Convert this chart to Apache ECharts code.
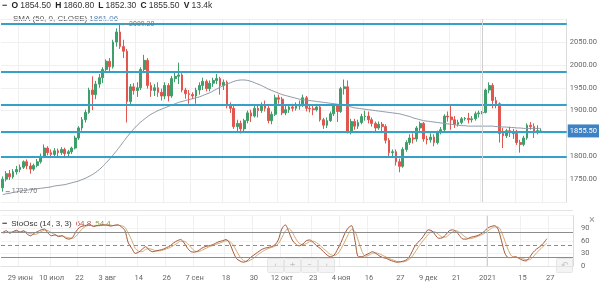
<!DOCTYPE html>
<html>
<head>
<meta charset="utf-8">
<title>GOLD</title>
<script src="https://cdn.jsdelivr.net/npm/echarts@6.0.0/dist/echarts.min.js"></script>
<style>
	html, body { margin: 0; padding: 0; background: #fff; }
	#chart { width: 600px; height: 282px; }
</style>
</head>
<body>
<div id="chart"></div>
<script>
(function() {
	'use strict';

	// календарь: рабочие дни начиная с 22 июня 2020 (с запасом справа)
	var dates = [];
	var d = new Date(Date.UTC(2020, 5, 22));
	while(dates.length < 164) {
		var wd = d.getUTCDay();
		if(wd !== 0 && wd !== 6) {
			dates.push(d.toISOString().slice(0, 10));
		}
		d.setUTCDate(d.getUTCDate() + 1);
	}

	// подписи оси времени
	var xLabels = {
		'2020-06-29': '29 июн', '2020-07-10': '10 июл', '2020-07-22': '22',
		'2020-08-03': '3 авг', '2020-08-14': '14', '2020-08-26': '26',
		'2020-09-07': '7 сен', '2020-09-18': '18', '2020-09-30': '30',
		'2020-10-12': '12 окт', '2020-10-23': '23', '2020-11-04': '4 ноя',
		'2020-11-16': '16', '2020-11-27': '27', '2020-12-09': '9 дек',
		'2020-12-21': '21', '2021-01-01': '2021', '2021-01-15': '15',
		'2021-01-27': '27'
	};

	// свечи: [open, close, low, high]
	var candles = [
		[1731, 1750, 1722.7, 1756], [1750, 1762, 1745, 1768], [1762, 1755, 1748, 1770], [1755, 1766, 1751, 1772], [1766, 1771, 1760, 1779],
		[1771, 1776, 1765, 1782], [1776, 1788, 1772, 1791], [1788, 1779, 1772, 1793], [1779, 1772, 1762, 1786], [1772, 1780, 1768, 1784],
		[1780, 1788, 1776, 1794], [1788, 1800, 1784, 1806], [1800, 1818, 1796, 1826], [1818, 1808, 1802, 1822], [1808, 1804, 1796, 1815],
		[1804, 1812, 1798, 1818], [1812, 1808, 1800, 1817], [1808, 1815, 1803, 1820], [1815, 1806, 1796, 1819], [1806, 1810, 1798, 1814],
		[1810, 1818, 1805, 1821], [1818, 1840, 1815, 1845], [1840, 1862, 1836, 1866], [1862, 1880, 1856, 1886], [1880, 1896, 1874, 1902],
		[1896, 1945, 1893, 1950], [1945, 1935, 1901, 1975], [1935, 1958, 1925, 1965], [1958, 1972, 1950, 1980], [1972, 1990, 1960, 1995],
		[1990, 2008, 1982, 2012], [2008, 1996, 1985, 2015], [1996, 2050, 1992, 2055], [2050, 2072, 2040, 2080], [2072, 2040, 2035, 2089.2],
		[2040, 2030, 2015, 2055], [2030, 1920, 1874, 2035], [1920, 1952, 1912, 1958], [1952, 1944, 1935, 1960], [1944, 1950, 1930, 1962],
		[1950, 1990, 1945, 1995], [1990, 2010, 1982, 2022], [2010, 1955, 1948, 2015], [1955, 1944, 1930, 1962], [1944, 1950, 1932, 1958],
		[1950, 1940, 1930, 1962], [1940, 1932, 1922, 1948], [1932, 1955, 1925, 1962], [1955, 1932, 1920, 1960], [1932, 1970, 1928, 1976],
		[1970, 1975, 1962, 1985], [1975, 1978, 1958, 2005], [1978, 1945, 1940, 1982], [1945, 1937, 1926, 1950], [1937, 1935, 1915, 1945],
		[1935, 1932, 1925, 1940], [1932, 1945, 1915, 1950], [1945, 1955, 1935, 1962], [1955, 1964, 1945, 1972], [1964, 1948, 1942, 1968],
		[1948, 1960, 1942, 1966], [1960, 1966, 1952, 1972], [1966, 1970, 1958, 1980], [1970, 1955, 1935, 1974], [1955, 1962, 1945, 1968],
		[1962, 1910, 1905, 1966], [1910, 1905, 1895, 1918], [1905, 1865, 1860, 1910], [1865, 1872, 1852, 1880], [1872, 1860, 1850, 1878],
		[1860, 1878, 1855, 1882], [1878, 1895, 1872, 1900], [1895, 1888, 1875, 1902], [1888, 1905, 1885, 1910], [1905, 1900, 1885, 1912],
		[1900, 1912, 1895, 1918], [1912, 1905, 1898, 1922], [1905, 1878, 1872, 1912], [1878, 1892, 1870, 1898], [1892, 1928, 1888, 1935],
		[1928, 1925, 1915, 1935], [1925, 1895, 1890, 1930], [1895, 1902, 1890, 1910], [1902, 1908, 1895, 1912], [1908, 1905, 1898, 1915],
		[1905, 1910, 1900, 1918], [1910, 1912, 1902, 1922], [1912, 1928, 1908, 1935], [1928, 1905, 1898, 1932], [1905, 1904, 1896, 1912],
		[1904, 1902, 1890, 1910], [1902, 1908, 1898, 1914], [1908, 1880, 1876, 1912], [1880, 1868, 1860, 1884], [1868, 1878, 1862, 1885],
		[1878, 1893, 1875, 1898], [1893, 1910, 1888, 1915], [1910, 1898, 1875, 1912], [1898, 1948, 1895, 1952], [1948, 1952, 1935, 1968],
		[1952, 1855, 1850, 1966], [1855, 1876, 1848, 1882], [1876, 1866, 1858, 1882], [1866, 1874, 1860, 1880], [1874, 1887, 1870, 1893],
		[1887, 1888, 1878, 1900], [1888, 1880, 1872, 1898], [1880, 1872, 1865, 1885], [1872, 1862, 1855, 1876], [1862, 1870, 1858, 1876],
		[1870, 1865, 1855, 1875], [1865, 1835, 1828, 1870], [1835, 1808, 1800, 1840], [1808, 1810, 1800, 1815], [1810, 1788, 1780, 1815],
		[1788, 1778, 1765, 1795], [1778, 1815, 1775, 1820], [1815, 1830, 1810, 1835], [1830, 1840, 1825, 1848], [1840, 1838, 1828, 1850],
		[1838, 1862, 1832, 1866], [1862, 1872, 1855, 1876], [1872, 1838, 1832, 1875], [1838, 1836, 1826, 1845], [1836, 1842, 1830, 1850],
		[1842, 1830, 1822, 1848], [1830, 1852, 1826, 1856], [1852, 1858, 1848, 1864], [1858, 1888, 1855, 1892], [1888, 1886, 1876, 1898],
		[1886, 1880, 1858, 1912], [1880, 1870, 1862, 1888], [1870, 1874, 1865, 1880], [1874, 1882, 1870, 1886], [1882, 1883, 1878, 1886],
		[1883, 1880, 1872, 1895], [1880, 1882, 1874, 1888], [1882, 1893, 1878, 1898], [1893, 1895, 1885, 1900], [1895, 1896, 1892, 1899],
		[1896, 1945, 1894, 1948], [1945, 1955, 1938, 1962], [1955, 1922, 1905, 1960], [1922, 1915, 1905, 1930], [1915, 1850, 1830, 1918],
		[1850, 1845, 1818, 1862], [1845, 1856, 1840, 1860], [1856, 1852, 1842, 1865], [1852, 1850, 1838, 1860], [1850, 1830, 1825, 1858],
		[1830, 1826, 1808, 1836], [1826, 1840, 1822, 1845], [1840, 1868, 1836, 1872], [1868, 1865, 1858, 1875], [1865, 1855, 1840, 1872],
		[1855, 1856, 1848, 1868], [1854.5, 1855.5, 1852.3, 1860.8]
	];

	// SMA (50, 0, CLOSE)
	var sma50 = [
		1716, 1718, 1719, 1721, 1722, 1724, 1725, 1726, 1727, 1728,
		1729, 1730, 1731, 1732, 1733, 1735, 1736, 1737, 1738, 1740,
		1742, 1744, 1746, 1749, 1752, 1756, 1760, 1765, 1771, 1778,
		1786, 1794, 1803, 1812, 1822, 1832, 1842, 1851, 1860, 1868,
		1875, 1881, 1887, 1892, 1896, 1900, 1903, 1906, 1909, 1912,
		1915, 1918, 1920, 1922, 1924, 1926, 1928, 1930, 1933, 1936,
		1939, 1943, 1947, 1951, 1955, 1958, 1961, 1964, 1966, 1967,
		1967, 1966, 1964, 1961, 1958, 1955, 1951, 1947, 1944, 1941,
		1938, 1935, 1933, 1931, 1929, 1927, 1925, 1924, 1923, 1922,
		1921, 1920, 1919, 1918, 1917, 1916, 1915, 1914, 1913, 1912,
		1910, 1908, 1906, 1905, 1904, 1903, 1902, 1901, 1900, 1899,
		1898, 1897, 1896, 1895, 1894, 1893, 1891, 1889, 1887, 1884,
		1882, 1880, 1878, 1877, 1876, 1875, 1874, 1873, 1872, 1871,
		1870, 1869, 1868, 1867, 1867, 1866, 1866, 1866, 1866, 1866,
		1866, 1866, 1866, 1865, 1865, 1864, 1864, 1863, 1863, 1862,
		1862, 1861, 1861, 1861, 1861, 1861, 1861.06
	];

	// StoOsc (14, 3, 3): %K и %D
	var stochK = [
		80, 84, 78, 82, 85, 80, 84, 76, 72, 78,
		82, 86, 88, 78, 72, 74, 70, 72, 66, 64,
		68, 82, 92, 95, 97, 98, 94, 96, 97, 98,
		97, 95, 97, 98, 93, 85, 55, 42, 30, 33,
		40, 46, 38, 34, 36, 38, 40, 44, 48, 55,
		60, 63, 55, 42, 34, 33, 36, 42, 46, 48,
		50, 54, 58, 60, 63, 55, 35, 18, 12, 9,
		12, 20, 26, 32, 38, 42, 44, 46, 50, 62,
		88, 98, 82, 62, 52, 48, 52, 60, 62, 56,
		48, 42, 34, 26, 22, 26, 40, 56, 76, 90,
		96, 60, 22, 22, 26, 30, 34, 30, 24, 20,
		18, 14, 11, 9, 10, 12, 16, 28, 45, 56,
		64, 76, 86, 84, 74, 66, 67, 74, 84, 86,
		82, 72, 64, 64, 68, 70, 72, 76, 82, 90,
		94, 96, 88, 60, 30, 20, 20, 22, 18, 14,
		12, 20, 32, 40, 46, 54, 64.8
	];
	var stochD = [
		78, 80, 81, 81, 82, 82, 83, 80, 77, 75,
		77, 82, 85, 84, 79, 75, 72, 72, 69, 67,
		66, 71, 81, 90, 95, 97, 96, 96, 96, 97,
		97, 97, 96, 97, 96, 92, 78, 61, 42, 35,
		34, 40, 41, 39, 36, 36, 38, 41, 44, 49,
		54, 59, 59, 53, 44, 36, 34, 37, 41, 45,
		48, 51, 54, 57, 60, 59, 51, 36, 22, 13,
		11, 14, 19, 26, 32, 37, 41, 44, 47, 53,
		67, 83, 89, 81, 65, 54, 51, 53, 58, 59,
		55, 49, 41, 34, 27, 25, 29, 41, 57, 74,
		87, 82, 59, 35, 23, 26, 30, 31, 29, 25,
		21, 17, 14, 11, 10, 10, 13, 19, 30, 43,
		55, 65, 75, 82, 81, 75, 69, 69, 75, 81,
		84, 80, 73, 67, 65, 67, 70, 73, 77, 83,
		89, 93, 93, 81, 59, 37, 23, 21, 20, 18,
		15, 15, 21, 31, 39, 47, 54.4
	];

	// горизонтальные уровни на графике цены
	var levels = [2090, 1985, 1912, 1853, 1800];
	var lastPrice = 1855.5;

	var upColor = '#3f9e6a';
	var downColor = '#e0574f';
	var levelColor = '#35a0c8';
	var fontName = 'Roboto, "Noto Sans", sans-serif';

	function isLabelDate(idx, val) {
		return !!xLabels[val];
	}

	var priceMarks = [];
	for(var i = 0; i < levels.length; i++) {
		priceMarks.push({
			yAxis: levels[i],
			lineStyle: { color: levelColor, width: 1.8, type: 'solid' },
			label: { show: false }
		});
	}
	priceMarks.push({
		xAxis: '2021-01-01',
		lineStyle: { color: '#cfcfcf', width: 1, type: 'solid' },
		label: { show: false }
	});

	function navButton(x, txt) {
		return {
			type: 'group',
			left: x,
			top: 258,
			children: [{
				type: 'rect',
				shape: { x: 0, y: 0, width: 16, height: 14, r: 1 },
				style: { fill: '#f4f4f4', stroke: '#e6e6e6', lineWidth: 1 }
			}, {
				type: 'text',
				x: 8,
				y: 7,
				style: { text: txt, fill: '#c4c4c4', fontSize: 9, fontFamily: fontName, align: 'center', verticalAlign: 'middle' }
			}]
		};
	}

	var chart = echarts.init(document.getElementById('chart'));

	chart.setOption({
		animation: false,
		backgroundColor: '#fff',
		textStyle: { fontFamily: fontName },
		grid: [
			{ left: 1, right: 27, top: 19.2, height: 182.8 },
			{ left: 1, right: 27, top: 215.6, height: 50.4 }
		],
		xAxis: [{
			type: 'category',
			gridIndex: 0,
			data: dates,
			boundaryGap: true,
			axisLine: { show: false },
			axisTick: { show: false },
			axisLabel: { show: false },
			splitLine: { show: true, interval: isLabelDate, lineStyle: { color: '#f0f0f0', width: 1 } }
		}, {
			type: 'category',
			gridIndex: 1,
			data: dates,
			boundaryGap: true,
			axisLine: { show: true, lineStyle: { color: '#e2e2e2' } },
			axisTick: { show: false },
			axisLabel: {
				interval: isLabelDate,
				formatter: function(val) {
					return xLabels[val] || '';
				},
				color: '#666',
				fontSize: 7.5,
				margin: 8
			},
			splitLine: { show: true, interval: isLabelDate, lineStyle: { color: '#f0f0f0', width: 1 } }
		}],
		yAxis: [{
			type: 'value',
			gridIndex: 0,
			position: 'right',
			min: 1700,
			max: 2100,
			interval: 50,
			axisLine: { show: true, lineStyle: { color: '#dcdcdc' } },
			axisTick: { show: false },
			axisLabel: {
				color: '#666',
				fontSize: 7.5,
				margin: 3,
				formatter: function(v) {
					if(v === 1700 || v === 2100 || v === 1850) {
						return '';
					}
					return v.toFixed(2);
				}
			},
			splitLine: { lineStyle: { color: '#f0f0f0' } }
		}, {
			type: 'value',
			gridIndex: 1,
			position: 'right',
			min: 0,
			max: 120,
			interval: 30,
			axisLine: { show: true, lineStyle: { color: '#dcdcdc' } },
			axisTick: { show: false },
			axisLabel: {
				color: '#666',
				fontSize: 7.5,
				margin: 8,
				formatter: function(v) {
					return v === 120 ? '' : String(v);
				}
			},
			splitLine: { lineStyle: { color: '#f3f3f3' } }
		}],
		series: [{
			name: 'GOLD',
			type: 'candlestick',
			xAxisIndex: 0,
			yAxisIndex: 0,
			data: candles,
			barWidth: '66%',
			itemStyle: {
				color: upColor,
				color0: downColor,
				borderColor: upColor,
				borderColor0: downColor,
				borderWidth: 1
			},
			markLine: {
				silent: true,
				symbol: ['none', 'none'],
				data: priceMarks
			},
			markPoint: {
				silent: true,
				symbol: 'rect',
				symbolSize: [4, 1],
				symbolOffset: [5, 0],
				itemStyle: { color: '#8a8a8a' },
				label: {
					position: 'right',
					distance: 2,
					color: '#777',
					fontSize: 7,
					formatter: function(p) {
						return Number(p.value).toFixed(2);
					}
				},
				data: [
					{ type: 'max', valueDim: 'highest' },
					{ type: 'min', valueDim: 'lowest' }
				]
			}
		}, {
			name: 'SMA',
			type: 'line',
			xAxisIndex: 0,
			yAxisIndex: 0,
			data: sma50,
			showSymbol: false,
			smooth: 0.2,
			lineStyle: { color: '#8d97a4', width: 1 },
			z: 3,
			// метка последней цены справа на шкале
			markLine: {
				silent: true,
				symbol: ['none', 'none'],
				lineStyle: { color: 'rgba(255,255,255,0)', width: 1, type: 'solid' },
				label: {
					show: true,
					position: 'end',
					distance: 1,
					formatter: lastPrice.toFixed(2),
					backgroundColor: '#3f82c4',
					color: '#fff',
					fontSize: 7.5,
					fontFamily: fontName,
					padding: [3, 2, 2, 2]
				},
				data: [{ yAxis: lastPrice }]
			}
		}, {
			name: '%D',
			type: 'line',
			xAxisIndex: 1,
			yAxisIndex: 1,
			data: stochD,
			showSymbol: false,
			smooth: 0.3,
			lineStyle: { color: '#d2ab74', width: 1 },
			markLine: {
				silent: true,
				symbol: ['none', 'none'],
				label: { show: false },
				data: [
					{ yAxis: 80, lineStyle: { color: '#8c8c8c', width: 1, type: 'solid' } },
					{ yAxis: 50, lineStyle: { color: '#8c8c8c', width: 1, type: [4, 3] } },
					{ yAxis: 20, lineStyle: { color: '#8c8c8c', width: 1, type: 'solid' } },
					{ xAxis: '2021-01-01', lineStyle: { color: '#cfcfcf', width: 1, type: 'solid' } }
				]
			}
		}, {
			name: '%K',
			type: 'line',
			xAxisIndex: 1,
			yAxisIndex: 1,
			data: stochK,
			showSymbol: false,
			smooth: 0.3,
			lineStyle: { color: '#a4573a', width: 1 }
		}],
		graphic: [{
			type: 'line',
			shape: { x1: 0, y1: 210.5, x2: 573, y2: 210.5 },
			style: { stroke: '#e4e4e4', lineWidth: 1 },
			silent: true
		}, {
			type: 'text',
			left: 2,
			top: 1,
			style: {
				text: '{d|−}  {b|O} {v|1854.50}  {b|H} {v|1860.80}  {b|L} {v|1852.30}  {b|C} {v|1855.50}  {b|V} {v|13.4k}',
				fontSize: 8.5,
				fontFamily: fontName,
				fill: '#222',
				rich: {
					d: { fill: '#222', fontSize: 9, fontWeight: 'bold' },
					b: { fill: '#222', fontWeight: 'bold', fontSize: 8.5 },
					v: { fill: '#333', fontSize: 8.5 }
				}
			}
		}, {
			type: 'text',
			left: 13,
			top: 15,
			style: {
				text: '{n|SMA (50, 0, CLOSE)} {s|1861.06}',
				fontSize: 8,
				fontFamily: fontName,
				rich: {
					n: { fill: '#555', fontSize: 8 },
					s: { fill: '#4f7fb3', fontSize: 8 }
				}
			}
		}, {
			type: 'text',
			left: 2,
			top: 219,
			style: {
				text: '{d|−}  {n|StoOsc (14, 3, 3)}  {k|64.8}  {dd|54.4}',
				fontSize: 8,
				fontFamily: fontName,
				rich: {
					d: { fill: '#222', fontSize: 9, fontWeight: 'bold' },
					n: { fill: '#333', fontSize: 8 },
					k: { fill: '#c4504a', fontSize: 8 },
					dd: { fill: '#8f9a46', fontSize: 8 }
				}
			}
		}, {
			type: 'text',
			left: 589,
			top: 215,
			style: { text: '×', fill: '#999', fontSize: 11, fontFamily: fontName }
		},
			navButton(267, '‹'),
			navButton(284, '+'),
			navButton(301, '−'),
			navButton(318, '›'),
			navButton(556, '↶')
		]
	});
})();
</script>
</body>
</html>
